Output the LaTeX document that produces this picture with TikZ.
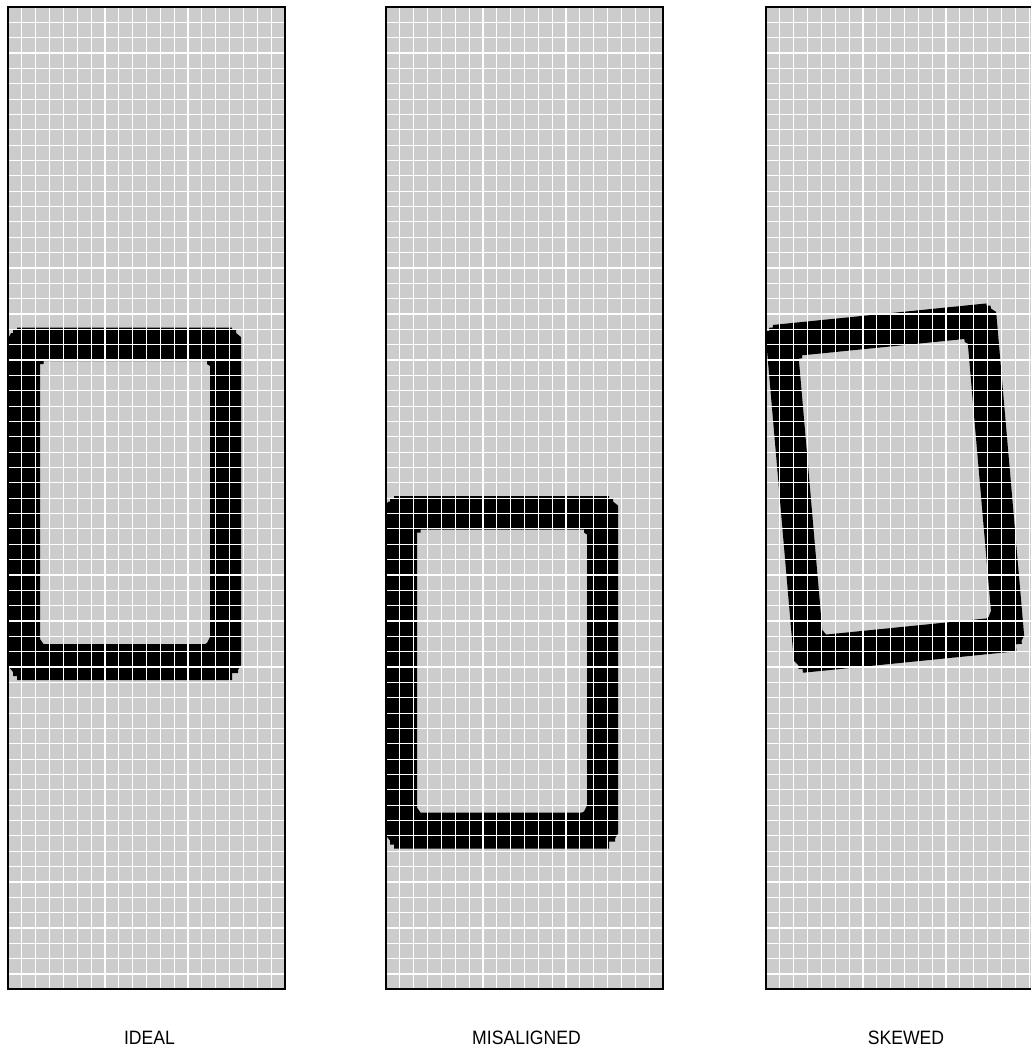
\documentclass[tikz,border=0pt]{standalone}
\usepackage{fontspec}
\setmainfont{Liberation Sans}
\definecolor{panelgray}{HTML}{CCCCCC}
\tikzset{
  panelbox/.style={fill=panelgray},
  gridline/.style={white, line width=0.85pt},
  panelborder/.style={draw=black, line width=1.5pt},
  caption/.style={font=\fontsize{13.2}{15}\selectfont, black},
}
% mask outline, given relative to the panel corner of the first panel
\newcommand{\maskframe}{
  (17,327.5) -- (232,327.5) -- (232,330) -- (236,330) -- (236,333) -- (241,337) -- (241,665)
  -- (238,670) -- (238,673) -- (232,673) -- (232,680) -- (17,680) -- (17,676) -- (13,676)
  -- (13,672) -- (9,667) -- (9,337) -- (11,333) -- (13,333) -- (13,330) -- (17,330) -- cycle
  (43.5,361) -- (43.5,364) -- (40,364) -- (40,639) -- (43.5,644) -- (205,644) -- (207,643)
  -- (210,637) -- (210,366) -- (207,364) -- (207,361) -- cycle
}
\newcommand{\panelgrid}{
  \foreach \i in {1,...,19}
    \draw[gridline] (\i*13.85,0) -- (\i*13.85,982);
  \foreach \j in {1,...,63}
    \draw[gridline] (0,\j*15.35) -- (277,\j*15.35);
}
\newcommand{\captext}[1]{\scalebox{1}[1.1]{#1}}
\begin{document}
\begin{tikzpicture}[x=0.75pt,y=-0.75pt]
  \useasboundingbox (0,0) rectangle (1031,1051);

  % Ideal
  \fill[panelbox] (8,7) rectangle (285,989);
  \fill[black, even odd rule] \maskframe;
  \begin{scope}[shift={(8,7)}]
    \panelgrid
  \end{scope}
  \draw[panelborder] (8,7) rectangle (285,989);
  \node[caption] (ideal) at (149.5,1038) {\captext{IDEAL}};

  % Misaligned
  \fill[panelbox] (386,7) rectangle (663,989);
  \begin{scope}[shift={(377,168.5)}]
    \fill[black, even odd rule] \maskframe;
  \end{scope}
  \begin{scope}[shift={(386,7)}]
    \panelgrid
  \end{scope}
  \draw[panelborder] (386,7) rectangle (663,989);
  \node[caption] (misaligned) at (526.5,1038) {\captext{MISALIGNED}};

  % Skewed
  \fill[panelbox] (766,7) rectangle (1043,989);
  \begin{scope}[shift={(728,3.5)}, x={(0.745pt,0.075pt)}, y={(0.064pt,-0.740pt)}]
    \fill[black, even odd rule] \maskframe;
  \end{scope}
  \begin{scope}[shift={(766,7)}]
    \panelgrid
  \end{scope}
  \draw[panelborder] (766,7) rectangle (1043,989);
  \node[caption] (skewed) at (906,1038) {\captext{SKEWED}};
\end{tikzpicture}
\end{document}
